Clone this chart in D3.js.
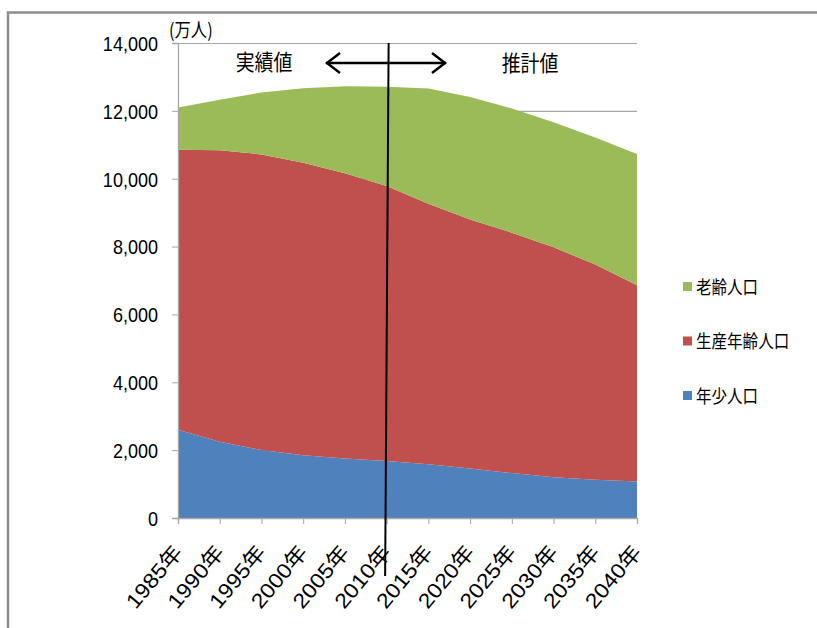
<!DOCTYPE html>
<html>
<head>
<meta charset="utf-8">
<script src="https://cdn.jsdelivr.net/npm/d3@7"></script>
<style>
  html, body { margin: 0; padding: 0; background: #fff; }
  svg { display: block; }
  text { font-family: "Liberation Sans", Arial, "Noto Sans CJK JP", sans-serif; fill: #000; }
  .jp { font-family: "Noto Sans CJK JP", sans-serif; }
</style>
</head>
<body>
<svg id="chart" width="817" height="628"></svg>
<script>
// 年齢3区分別人口（万人）: 1985–2010 実績値, 2015–2040 推計値
const years = [1985, 1990, 1995, 2000, 2005, 2010, 2015, 2020, 2025, 2030, 2035, 2040];
const youth   = [2603, 2249, 2001, 1847, 1752, 1680, 1583, 1457, 1324, 1204, 1129, 1073]; // 年少人口
const working = [8251, 8590, 8716, 8622, 8409, 8103, 7682, 7341, 7085, 6773, 6343, 5787]; // 生産年齢人口
const elderly = [1247, 1489, 1826, 2201, 2567, 2925, 3395, 3612, 3657, 3685, 3741, 3868]; // 老齢人口
const yTicks = [0, 2000, 4000, 6000, 8000, 10000, 12000, 14000];
const seriesNames = ["年少人口", "生産年齢人口", "老齢人口"];
const seriesColors = ["#4F81BD", "#C0504D", "#9BBB59"];
const legendOrder = ["老齢人口", "生産年齢人口", "年少人口"];
const splitYear = 2010;

// the whole figure uses a horizontally condensed type
const SX = 0.86;

const svg = d3.select("#chart");
const plot = { left: 178, right: 637, top: 43, bottom: 518 };

const x = d3.scaleLinear().domain([years[0], years[years.length - 1]]).range([plot.left, plot.right]);
const y = d3.scaleLinear().domain([0, 14000]).range([plot.bottom, plot.top]);

// outer frame
svg.append("path")
  .attr("d", "M8,628 L8,12.5 L817,12.5")
  .attr("fill", "none").attr("stroke", "#8c8c8c").attr("stroke-width", 2.5);

// horizontal gridlines (visible above the stacked areas)
svg.append("g").selectAll("line").data(yTicks.filter(d => d > 0)).join("line")
  .attr("x1", plot.left).attr("x2", plot.right)
  .attr("y1", d => y(d) + 0.5).attr("y2", d => y(d) + 0.5)
  .attr("stroke", "#a6a6a6").attr("stroke-width", 1.2);

// stacked areas
const table = years.map((yr, i) => ({ year: yr, "年少人口": youth[i], "生産年齢人口": working[i], "老齢人口": elderly[i] }));
const stack = d3.stack().keys(seriesNames)(table);
const area = d3.area()
  .x(d => x(d.data.year))
  .y0(d => y(d[0]))
  .y1(d => y(d[1]));
svg.append("g").selectAll("path").data(stack).join("path")
  .attr("d", area)
  .attr("fill", (d, i) => seriesColors[i]);

// y axis
const yAxis = d3.axisLeft(y).tickValues(yTicks).tickSize(6).tickFormat(d3.format(","));
const gy = svg.append("g").attr("transform", `translate(${plot.left},0)`).call(yAxis);
gy.select(".domain").attr("stroke", "#a6a6a6").attr("stroke-width", 1.3);
gy.selectAll(".tick line").attr("stroke", "#a6a6a6");
gy.selectAll(".tick text")
  .attr("x", 0).attr("dy", "0.36em")
  .attr("font-size", 20.5)
  .attr("transform", `translate(-20,0) scale(${SX + 0.02},1)`)
  .style("font-family", "'Liberation Sans', Arial, sans-serif");

// x axis
const xAxis = d3.axisBottom(x).tickValues(years).tickSize(6).tickFormat(d => d + "年");
const gx = svg.append("g").attr("transform", `translate(0,${plot.bottom})`).call(xAxis);
gx.select(".domain").attr("stroke", "#a6a6a6").attr("stroke-width", 1.3);
gx.selectAll(".tick line").attr("stroke", "#a6a6a6");
gx.selectAll(".tick text")
  .attr("font-size", 21)
  .attr("text-anchor", "end")
  .attr("dy", null)
  .attr("y", 0)
  .attr("transform", "translate(5,35) rotate(-50) scale(1.1,1)");

// unit label
svg.append("text").attr("class", "jp")
  .attr("transform", `translate(169,37) scale(${SX},1)`)
  .attr("font-size", 19).text("(万人)");

// divider between 実績値 and 推計値
svg.append("line")
  .attr("x1", x(splitYear) + 2).attr("y1", plot.top)
  .attr("x2", x(splitYear) - 1.5).attr("y2", 576)
  .attr("stroke", "#000").attr("stroke-width", 2);

// double-headed arrow
const arrowY = 63, ax0 = 326, ax1 = 446;
svg.append("line").attr("x1", ax0).attr("x2", ax1).attr("y1", arrowY).attr("y2", arrowY)
  .attr("stroke", "#000").attr("stroke-width", 2.5);
svg.append("path")
  .attr("d", `M${ax0 + 14},${arrowY - 10} L${ax0 + 1},${arrowY} L${ax0 + 14},${arrowY + 10}` +
             ` M${ax1 - 14},${arrowY - 10} L${ax1 - 1},${arrowY} L${ax1 - 14},${arrowY + 10}`)
  .attr("fill", "none").attr("stroke", "#000").attr("stroke-width", 2.5);

svg.append("text").attr("class", "jp")
  .attr("transform", `translate(264,70) scale(${SX},1)`)
  .attr("text-anchor", "middle").attr("font-size", 22).text("実績値");
svg.append("text").attr("class", "jp")
  .attr("transform", `translate(530,71) scale(${SX},1)`)
  .attr("text-anchor", "middle").attr("font-size", 22).text("推計値");

// legend
const legend = svg.append("g").selectAll("g").data(legendOrder).join("g")
  .attr("transform", (d, i) => `translate(683,${287 + i * 54.5})`);
legend.append("rect").attr("x", 0).attr("y", -5).attr("width", 9).attr("height", 9)
  .attr("fill", d => seriesColors[seriesNames.indexOf(d)]);
legend.append("text").attr("class", "jp")
  .attr("transform", `translate(13,0) scale(${SX - 0.02},1)`)
  .attr("dy", "0.36em")
  .attr("font-size", 18.5).text(d => d);
</script>
</body>
</html>
